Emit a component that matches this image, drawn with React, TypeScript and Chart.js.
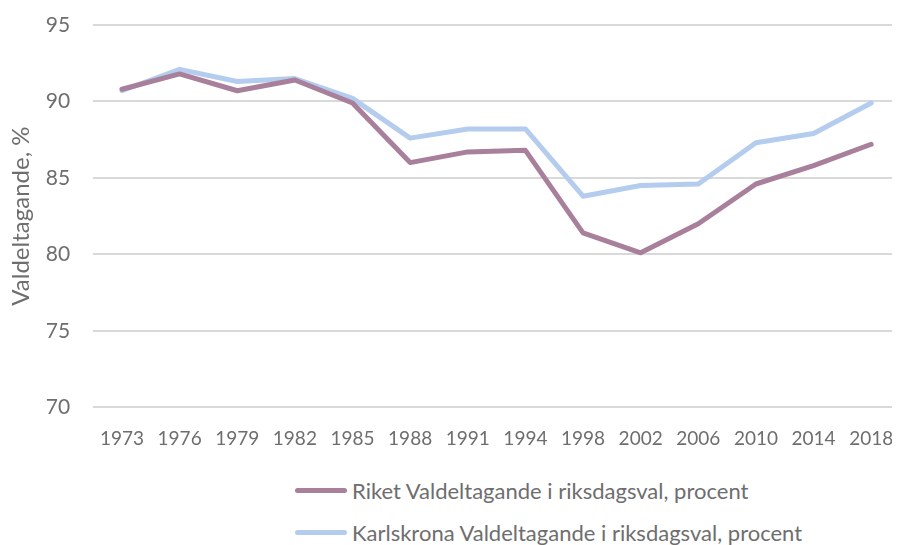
import React, { useEffect, useRef } from "react";
import { Chart, registerables } from "chart.js";

Chart.register(...registerables);

const years = ["1973", "1976", "1979", "1982", "1985", "1988", "1991", "1994", "1998", "2002", "2006", "2010", "2014", "2018"];
const riket = [90.8, 91.8, 90.7, 91.4, 89.9, 86.0, 86.7, 86.8, 81.4, 80.1, 82.0, 84.6, 85.8, 87.2];
const karlskrona = [90.7, 92.1, 91.3, 91.5, 90.2, 87.6, 88.2, 88.2, 83.8, 84.5, 84.6, 87.3, 87.9, 89.9];
const riketLabel = "Riket Valdeltagande i riksdagsval, procent";
const karlskronaLabel = "Karlskrona Valdeltagande i riksdagsval, procent";
const yTitle = "Valdeltagande, %";

const RIKET_COLOR = "#A8809B";
const KARL_COLOR = "#B4CCEE";
const TEXT = "#6E6E6E";
const FONT = "Lato, 'Open Sans', sans-serif";

export default function App() {
  const ref = useRef<HTMLCanvasElement | null>(null);
  useEffect(() => {
    if (!ref.current) return;
    const chart = new Chart(ref.current, {
      type: "line",
      data: {
        labels: years,
        datasets: [
          { label: riketLabel, data: riket, borderColor: RIKET_COLOR, backgroundColor: RIKET_COLOR, borderWidth: 5, pointRadius: 0, tension: 0, borderCapStyle: "round", borderJoinStyle: "round" },
          { label: karlskronaLabel, data: karlskrona, borderColor: KARL_COLOR, backgroundColor: KARL_COLOR, borderWidth: 5, pointRadius: 0, tension: 0, borderCapStyle: "round", borderJoinStyle: "round" },
        ],
      },
      options: {
        animation: false,
        responsive: false,
        maintainAspectRatio: false,
        layout: { padding: { top: 25, right: 0, left: 7, bottom: 0 } },
        plugins: { legend: { display: false }, tooltip: { enabled: false } },
        scales: {
          x: {
            offset: true,
            grid: { display: true, color: "transparent", drawOnChartArea: false, drawTicks: true, tickLength: 20, tickColor: "transparent" },
            border: { display: false },
            ticks: { color: TEXT, font: { family: FONT, size: 19 }, maxRotation: 0, autoSkip: false, padding: 0 },
            afterFit: (scale: any) => { scale.paddingRight = 0; scale.paddingLeft = 0; },
          },
          y: {
            min: 70,
            max: 95,
            grid: { color: "#D9D9D9", lineWidth: 2, drawTicks: true, tickLength: 23, tickColor: "transparent" },
            border: { display: false },
            ticks: { stepSize: 5, color: TEXT, font: { family: FONT, size: 21 }, padding: 0 },
            title: { display: true, text: yTitle, color: TEXT, font: { family: FONT, size: 24 }, padding: { top: 0, bottom: 10 } },
          },
        },
      },
    });
    return () => chart.destroy();
  }, []);

  const legendRow = (color: string, text: string, top: number) => (
    <div style={{ position: "absolute", left: 295, top, display: "flex", alignItems: "center", fontFamily: FONT, fontSize: 22, color: TEXT, whiteSpace: "nowrap" }}>
      <span style={{ display: "inline-block", width: 52, height: 5, borderRadius: 3, background: color, marginRight: 5 }} />
      <span>{text}</span>
    </div>
  );

  return (
    <div style={{ position: "relative", width: 900, height: 545, margin: "-8px 0 0 -8px", background: "#fff", overflow: "hidden" }}>
      <canvas ref={ref} width={900} height={450} style={{ display: "block" }} />
      {legendRow(RIKET_COLOR, riketLabel, 477)}
      {legendRow(KARL_COLOR, karlskronaLabel, 519)}
    </div>
  );
}
